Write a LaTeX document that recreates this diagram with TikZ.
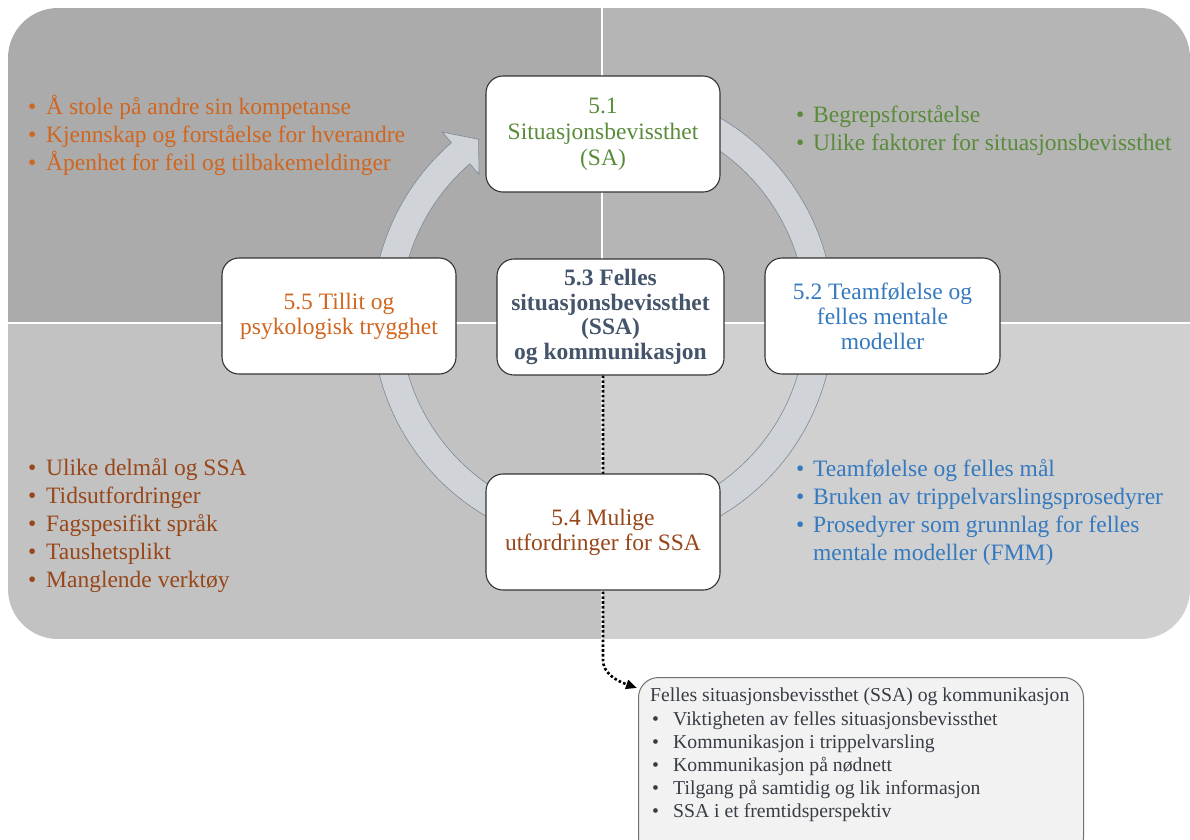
\documentclass[tikz,border=0pt]{standalone}
\usepackage{fontspec}
\setmainfont{Liberation Serif}
\usetikzlibrary{arrows.meta}

\definecolor{qtl}{HTML}{ABABAB}
\definecolor{qtr}{HTML}{B5B5B5}
\definecolor{qbl}{HTML}{C2C2C2}
\definecolor{qbr}{HTML}{D0D0D0}
\definecolor{ringfill}{HTML}{D0D3D8}
\definecolor{ringline}{HTML}{7D8898}
\definecolor{txorange}{HTML}{D0661F}
\definecolor{txbrown}{HTML}{97471A}
\definecolor{txgreen}{HTML}{5A8B3B}
\definecolor{txblue}{HTML}{3579BF}
\definecolor{txslate}{HTML}{44546A}
\definecolor{txgray}{HTML}{383D45}
\definecolor{detailfill}{HTML}{F2F2F2}
\definecolor{detailline}{HTML}{707070}

% bullet set in a box of the given width, so the item text starts at a fixed indent
\newcommand\mybul[1]{\makebox[#1][l]{•}}

\begin{document}
\begin{tikzpicture}[x=1pt,y=-1pt,
  topic/.style={draw=black!80, line width=1.1pt, fill=white, rounded corners=17pt,
    minimum width=234pt, minimum height=116pt, inner sep=0pt, align=center,
    font=\fontsize{23.5}{25}\selectfont},
  blist/.style={anchor=west, inner sep=0pt, align=left,
    font=\fontsize{23.5}{28}\selectfont},
  densedot/.style={line width=2.6pt, dash pattern=on 2.6pt off 2.2pt},
  detailbox/.style={draw=detailline, line width=1pt, fill=detailfill, rounded corners=20pt,
    inner sep=0pt},
  detailtext/.style={inner sep=0pt, align=left, text=txgray,
    font=\fontsize{19.7}{23.2}\selectfont}
]
\useasboundingbox (0,0) rectangle (1190,839);

% four shaded quarters inside one rounded panel
\begin{scope}
  \clip[rounded corners=50pt] (8,8) rectangle (1190,639);
  \fill[qtl] (8,8) rectangle (601.5,323);
  \fill[qtr] (601.5,8) rectangle (1190,323);
  \fill[qbl] (8,323) rectangle (601.5,639);
  \fill[qbr] (601.5,323) rectangle (1190,639);
  \draw[white, line width=2pt] (601.5,8) -- (601.5,639) (8,323) -- (1190,323);
\end{scope}

% circular arrow running clockwise behind the topic boxes
\coordinate (c) at (603,317);
\filldraw[fill=ringfill, draw=ringline, line width=0.6pt]
  ([shift={(-70:231)}]c) arc[start angle=-70, end angle=229, radius=231]
  -- ([shift={(229:245)}]c) -- ([shift={(235:217)}]c) -- ([shift={(229:189)}]c)
  -- ([shift={(229:203)}]c) arc[start angle=229, end angle=-70, radius=203] -- cycle;

% topic boxes
\node[topic, text=txgreen, font=\fontsize{23.5}{26}\selectfont] (n51) at (603,134)
  {5.1\\Situasjonsbevissthet\\(SA)};
\node[topic, text=txorange] (n55) at (339,316) {5.5 Tillit og\\psykologisk trygghet};
\node[topic, minimum width=227pt, text=txslate,
  font=\fontsize{23.5}{24.5}\selectfont\bfseries] (n53) at (610.5,317)
  {5.3 Felles\\situasjonsbevissthet\\(SSA)\\og kommunikasjon};
\node[topic, minimum width=235pt, text=txblue] (n52) at (882.5,316)
  {5.2 Teamfølelse og\\felles mentale\\modeller};

% dotted link from 5.3 to the detail box, passing behind 5.4
\coordinate (bend) at (603,660);
\coordinate (tip) at (637,688);
\draw[densedot, -{Triangle[length=11pt,width=9pt]}]
  (n53.south -| 603,0) -- (bend) .. controls (603,672) and (614,680) .. (tip);

\node[topic, text=txbrown] (n54) at (603,532) {5.4 Mulige\\utfordringer for SSA};

% bullet lists in the four quarters
\node[blist, text=txorange] (ltl) at (28,135)
  {\mybul{18pt}Å stole på andre sin kompetanse\\
   \mybul{18pt}Kjennskap og forståelse for hverandre\\
   \mybul{18pt}Åpenhet for feil og tilbakemeldinger};
\node[blist, text=txgreen] (ltr) at (796,130)
  {\mybul{17pt}Begrepsforståelse\\
   \mybul{17pt}Ulike faktorer for situasjonsbevissthet};
\node[blist, text=txbrown] (lbl) at (28,526)
  {\mybul{18pt}Ulike delmål og SSA\\
   \mybul{18pt}Tidsutfordringer\\
   \mybul{18pt}Fagspesifikt språk\\
   \mybul{18pt}Taushetsplikt\\
   \mybul{18pt}Manglende verktøy};
\node[blist, text=txblue] (lbr) at (796,512)
  {\mybul{17pt}Teamfølelse og felles mål\\
   \mybul{17pt}Bruken av trippelvarslingsprosedyrer\\
   \mybul{17pt}Prosedyrer som grunnlag for felles\\
   \hspace*{17pt}mentale modeller (FMM)};

% detail box for 5.3
\node[detailbox, anchor=north west, minimum width=445pt, minimum height=180pt] (detail)
  at (638,677) {};
\node[detailtext, anchor=north west] (detailtxt) at (650,688)
  {Felles situasjonsbevissthet (SSA) og kommunikasjon\\
   \hspace*{2pt}\mybul{21pt}Viktigheten av felles situasjonsbevissthet\\
   \hspace*{2pt}\mybul{21pt}Kommunikasjon i trippelvarsling\\
   \hspace*{2pt}\mybul{21pt}Kommunikasjon på nødnett\\
   \hspace*{2pt}\mybul{21pt}Tilgang på samtidig og lik informasjon\\
   \hspace*{2pt}\mybul{21pt}SSA i et fremtidsperspektiv};
\end{tikzpicture}
\end{document}
